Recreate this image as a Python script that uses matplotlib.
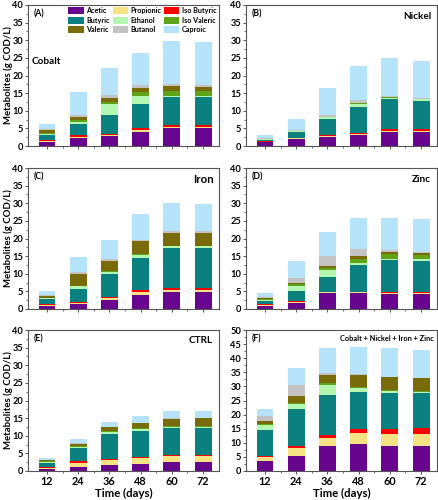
import matplotlib
matplotlib.use("Agg")
import matplotlib.pyplot as plt
import numpy as np
from matplotlib.patches import Patch
from matplotlib.ticker import MultipleLocator

plt.rcParams['font.family'] = ['Lato', 'DejaVu Sans']
plt.rcParams['font.weight'] = 'bold'

days = ["12", "24", "36", "48", "60", "72"]
components = ["Acetic", "Propionic", "Iso Butyric", "Butyric", "Ethanol",
              "Iso Valeric", "Valeric", "Butanol", "Caproic"]
colors = ["#68058f", "#f5e383", "#ff0000", "#0a8080", "#b4f7b0",
          "#5fa317", "#7a6b0a", "#c3c3c3", "#b5e3fa"]

# rows follow `components` order; columns follow `days`
cobalt = [
    [1.2, 2.3, 2.7, 4.1, 5.1, 5.1],
    [0.2, 0.2, 0.3, 0.4, 0.4, 0.4],
    [0.3, 0.5, 0.5, 0.5, 0.4, 0.4],
    [1.4, 3.2, 5.2, 7.0, 8.0, 8.0],
    [0.4, 0.6, 3.1, 2.3, 0.4, 0.4],
    [0.3, 0.5, 0.7, 1.0, 1.2, 1.2],
    [0.7, 1.0, 1.0, 1.2, 1.4, 1.3],
    [0.3, 0.4, 1.0, 0.8, 0.6, 0.5],
    [1.4, 6.6, 7.5, 9.1, 12.3, 12.2],
]
nickel = [
    [1.1, 1.9, 2.5, 3.0, 3.9, 3.9],
    [0.1, 0.3, 0.3, 0.3, 0.3, 0.3],
    [0.1, 0.2, 0.4, 0.5, 0.6, 0.6],
    [0.5, 1.6, 4.6, 7.4, 8.4, 7.9],
    [0.1, 0.2, 0.4, 0.8, 0.5, 0.5],
    [0.0, 0.0, 0.0, 0.2, 0.2, 0.2],
    [0.1, 0.0, 0.0, 0.0, 0.0, 0.0],
    [0.3, 0.2, 0.5, 0.9, 0.3, 0.2],
    [0.7, 3.2, 7.8, 9.6, 10.8, 10.6],
]
iron = [
    [0.9, 1.4, 2.6, 4.1, 4.7, 4.7],
    [0.3, 0.4, 0.4, 0.6, 0.6, 0.6],
    [0.2, 0.3, 0.4, 0.6, 0.7, 0.7],
    [1.4, 3.7, 6.6, 9.3, 11.3, 11.3],
    [0.2, 0.7, 0.6, 0.8, 0.5, 0.5],
    [0.1, 0.1, 0.1, 0.1, 0.1, 0.1],
    [0.7, 3.2, 2.9, 3.7, 3.7, 3.7],
    [0.3, 0.6, 0.7, 0.5, 0.6, 0.4],
    [1.0, 4.3, 5.4, 7.2, 7.9, 7.7],
]
zinc = [
    [0.9, 1.7, 4.4, 4.4, 4.2, 4.2],
    [0.2, 0.2, 0.3, 0.3, 0.3, 0.3],
    [0.2, 0.3, 0.2, 0.2, 0.3, 0.3],
    [1.0, 2.9, 4.3, 7.7, 9.0, 8.8],
    [0.3, 1.5, 1.8, 0.5, 0.5, 0.5],
    [0.2, 0.4, 0.6, 1.2, 1.2, 1.2],
    [0.2, 0.4, 0.7, 0.6, 0.6, 0.6],
    [0.5, 1.4, 2.8, 2.1, 0.5, 0.4],
    [1.1, 4.7, 6.7, 8.7, 9.2, 9.1],
]
ctrl = [
    [0.5, 1.0, 1.6, 2.0, 2.5, 2.5],
    [0.3, 1.3, 1.4, 1.7, 1.7, 1.8],
    [0.2, 0.4, 0.4, 0.3, 0.3, 0.3],
    [1.2, 3.8, 7.2, 7.4, 7.7, 7.7],
    [0.3, 0.3, 0.4, 0.4, 0.3, 0.3],
    [0.2, 0.2, 0.3, 0.3, 0.3, 0.3],
    [0.4, 0.8, 1.1, 1.4, 1.9, 2.0],
    [0.1, 0.2, 0.2, 0.2, 0.2, 0.2],
    [0.4, 1.0, 1.4, 2.0, 2.0, 1.9],
]
combined = [
    [3.5, 5.4, 8.9, 9.5, 8.9, 8.9],
    [1.5, 2.6, 2.8, 4.0, 4.1, 4.3],
    [0.2, 0.7, 1.2, 1.5, 2.0, 1.9],
    [9.3, 13.2, 14.1, 13.0, 12.5, 12.5],
    [1.8, 1.9, 3.4, 1.3, 0.7, 0.5],
    [0.3, 0.3, 0.7, 0.5, 0.4, 0.3],
    [1.3, 2.6, 2.8, 4.3, 4.7, 4.5],
    [1.5, 3.9, 0.8, 0.2, 0.2, 0.2],
    [2.6, 5.9, 8.8, 9.5, 10.0, 9.9],
]

panels = [
    ("(A)", "Cobalt", cobalt, 40),
    ("(B)", "Nickel", nickel, 40),
    ("(C)", "Iron", iron, 40),
    ("(D)", "Zinc", zinc, 40),
    ("(E)", "CTRL", ctrl, 40),
    ("(F)", "Cobalt + Nickel + Iron + Zinc", combined, 50),
]

W, H = 438, 500
fig = plt.figure(figsize=(W / 100, H / 100), dpi=100)

lefts = [28, 246]
tops = [5, 168, 330]
aw, ah = 191, 141

x = np.arange(len(days))
spine_col = "#555555"
for i, (tag, name, data, ymax) in enumerate(panels):
    r, c = divmod(i, 2)
    ax = fig.add_axes([lefts[c] / W, 1 - (tops[r] + ah) / H, aw / W, ah / H])
    bottom = np.zeros(len(days))
    for k, comp in enumerate(components):
        vals = np.array(data[k], dtype=float)
        ax.bar(x, vals, width=0.54, bottom=bottom, color=colors[k],
               linewidth=0, label=comp)
        bottom += vals
    ax.set_xlim(-0.61, 5.51)
    ax.set_ylim(0, ymax)
    ax.yaxis.set_major_locator(MultipleLocator(5))
    ax.yaxis.set_minor_locator(MultipleLocator(2.5))
    ax.set_xticks(x)
    ax.set_xticks(x[:-1] + 0.5, minor=True)
    for s in ax.spines.values():
        s.set_color(spine_col)
        s.set_linewidth(0.8)
    ax.tick_params(axis='both', which='major', direction='out', length=2.5,
                   width=0.7, color=spine_col, pad=1.0)
    ax.tick_params(axis='y', which='major', labelsize=6.7)
    ax.tick_params(axis='both', which='minor', direction='out', length=1.5,
                   width=0.6, color=spine_col)
    for lab in ax.get_yticklabels():
        lab.set_fontweight('bold')
    if r == 2:
        ax.set_xticklabels(days, fontweight='bold', fontsize=7.8)
        ax.set_xlabel("Time (days)", fontweight='bold', fontsize=8.2,
                      labelpad=0.5)
    else:
        ax.set_xticklabels([])
    if c == 0:
        ax.set_ylabel("Metabolites (g COD/L)", fontweight='bold', fontsize=6.9)
        ax.yaxis.set_label_coords(-0.0795, 0.5)
    ax.text(0.03, 0.965, tag, transform=ax.transAxes, ha='left', va='top',
            fontsize=6.2, fontweight='bold')
    if name == "Cobalt":
        ax.text(0.02, 0.60, name, transform=ax.transAxes, ha='left',
                va='center', fontsize=7.2, fontweight='bold')
    elif name == "CTRL":
        ax.text(0.965, 0.925, name, transform=ax.transAxes, ha='right',
                va='center', fontsize=7.2, fontweight='bold')
    elif name == "Iron":
        ax.text(0.97, 0.92, name, transform=ax.transAxes, ha='right',
                va='center', fontsize=8.2, fontweight='bold')
    elif r == 2:
        ax.text(0.985, 0.94, name, transform=ax.transAxes, ha='right',
                va='center', fontsize=5.3, fontweight='bold')
    else:
        ax.text(0.97, 0.92, name, transform=ax.transAxes, ha='right',
                va='center', fontsize=7.2, fontweight='bold')
    if i == 0:
        handles = [Patch(facecolor=colors[k], edgecolor='none', label=components[k])
                   for k in range(len(components))]
        order = [0, 3, 6, 1, 4, 7, 2, 5, 8]
        ax.legend([handles[k] for k in order], [components[k] for k in order],
                  ncol=3, loc='upper right', bbox_to_anchor=(1.0, 1.0),
                  frameon=False, handlelength=2.1,
                  handleheight=1.1, columnspacing=0.35, handletextpad=0.4,
                  labelspacing=0.35, borderaxespad=0.15, borderpad=0.15,
                  prop={'weight': 'bold', 'size': 5.2})

fig.savefig("out.png", dpi=100)
